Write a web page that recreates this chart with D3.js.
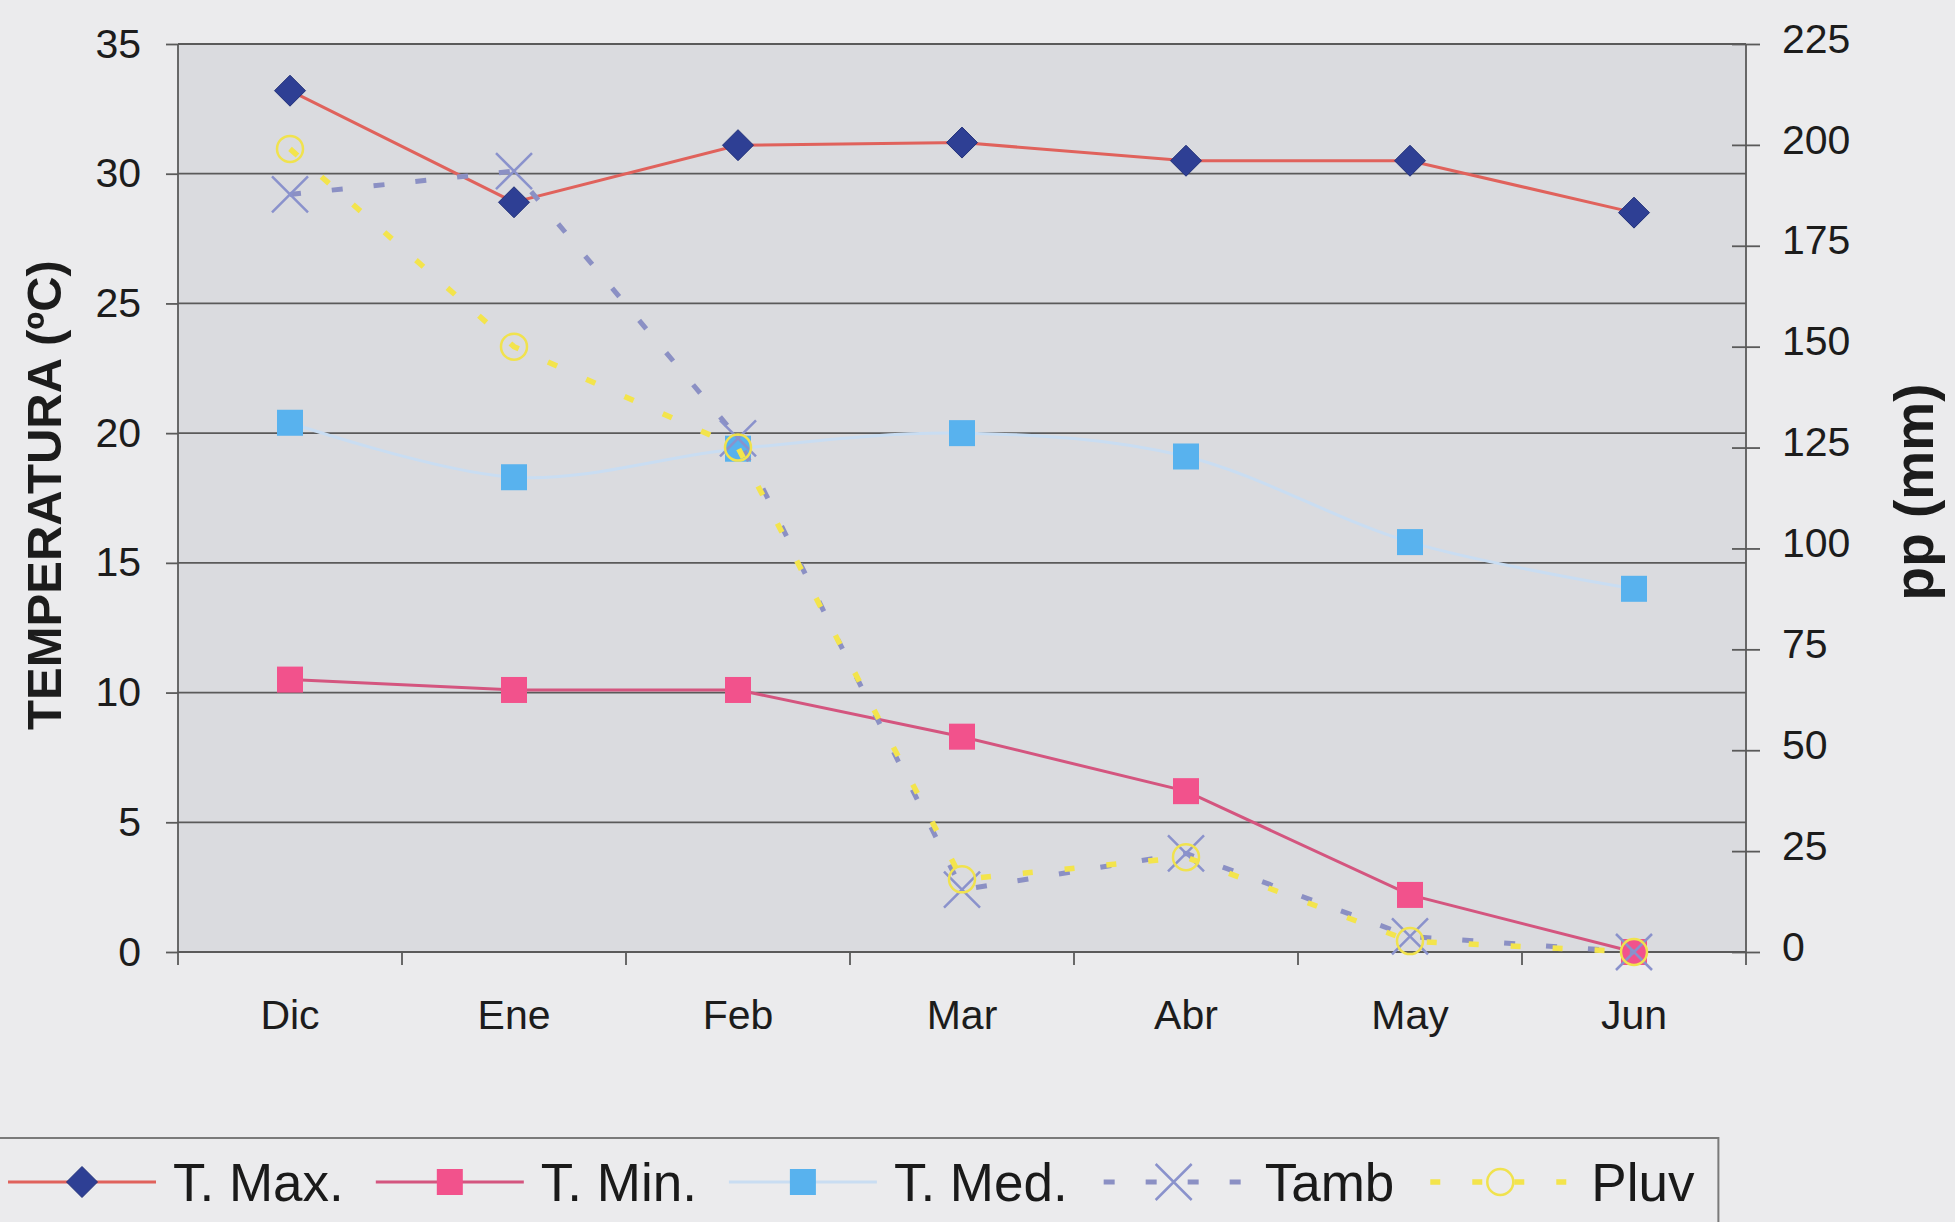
<!DOCTYPE html>
<html>
<head>
<meta charset="utf-8">
<script src="https://cdn.jsdelivr.net/npm/d3@7"></script>
<style>
  body { margin: 0; background: #ebebed; }
  svg { display: block; font-family: "Liberation Sans", Arial, sans-serif; }
</style>
</head>
<body>
<div id="chart"></div>
<script>
// data
const months = ["Dic", "Ene", "Feb", "Mar", "Abr", "May", "Jun"];
const tMax = [33.2, 28.9, 31.1, 31.2, 30.5, 30.5, 28.5];
const tMin = [10.5, 10.1, 10.1, 8.3, 6.2, 2.2, 0];
const tMed = [20.4, 18.3, 19.4, 20.0, 19.1, 15.8, 14.0];
const tAmb = [29.2, 30.1, 19.8, 2.4, 3.8, 0.6, 0];
const pluv = [199, 150, 125, 18, 23.5, 2.7, 0];
const tempTicks = [0, 5, 10, 15, 20, 25, 30, 35];
const ppTicks = [0, 25, 50, 75, 100, 125, 150, 175, 200, 225];

const width = 1955, height = 1222;
const margin = {top: 44, right: 209, bottom: 270, left: 178};
const plotRight = width - margin.right;
const plotBottom = height - margin.bottom;

const series = [
  {name: "T. Med.", values: tMed, axis: "T", color: "#c9ddf2", width: 3, marker: "square", mcolor: "#58b2ee", curve: d3.curveCardinal.tension(0)},
  {name: "T. Max.", values: tMax, axis: "T", color: "#e0625c", width: 3, marker: "diamond", mcolor: "#2e3f94"},
  {name: "T. Min.", values: tMin, axis: "T", color: "#d4557f", width: 3, marker: "square", mcolor: "#f2528c"},
  {name: "Tamb", values: tAmb, axis: "T", color: "#8b90c4", width: 5, dash: "11,31", marker: "x", mcolor: "#8a92cc"},
  {name: "Pluv", values: pluv, axis: "P", color: "#f3e44c", width: 5.5, dash: "10,32", marker: "circle", mcolor: "#f0e24e"}
];
const legendOrder = ["T. Max.", "T. Min.", "T. Med.", "Tamb", "Pluv"];

const svg = d3.select("#chart").append("svg").attr("width", width).attr("height", height);
svg.append("rect").attr("width", width).attr("height", height).attr("fill", "#ebebed");

const x = d3.scaleBand().domain(months).range([margin.left, plotRight]);
const yT = d3.scaleLinear().domain([0, 35]).range([plotBottom, margin.top]);
const yP = d3.scaleLinear().domain([0, 225]).range([plotBottom, margin.top]);
const cx = m => x(m) + x.bandwidth() / 2;

// plot area
svg.append("rect")
  .attr("x", margin.left).attr("y", margin.top)
  .attr("width", plotRight - margin.left).attr("height", plotBottom - margin.top)
  .attr("fill", "#dadbdf");

const gridColor = "#5a5a5a";

// gridlines
svg.append("g").selectAll("line").data(tempTicks).join("line")
  .attr("x1", margin.left).attr("x2", plotRight)
  .attr("y1", d => yT(d)).attr("y2", d => yT(d))
  .attr("stroke", gridColor).attr("stroke-width", 1.8);

// left axis
const leftAxis = svg.append("g")
  .attr("transform", `translate(${margin.left},0)`)
  .call(d3.axisLeft(yT).tickValues(tempTicks).tickSize(12).tickPadding(25));
// right axis
const rightAxis = svg.append("g")
  .attr("transform", `translate(${plotRight},0)`)
  .call(d3.axisRight(yP).tickValues(ppTicks).tickSize(14).tickPadding(22));
rightAxis.selectAll(".tick line").attr("x1", -14);
rightAxis.selectAll(".tick text").attr("dy", "0.2em");
// bottom labels
const bottomAxis = svg.append("g")
  .attr("transform", `translate(0,${plotBottom})`)
  .call(d3.axisBottom(x).tickSize(0).tickPadding(48));

[leftAxis, rightAxis, bottomAxis].forEach(g => {
  g.select(".domain").remove();
  g.selectAll(".tick line").attr("stroke", gridColor).attr("stroke-width", 1.8);
  g.selectAll(".tick text").attr("fill", "#1c1c1c").attr("font-size", 41);
});

// axis lines, extended a little below the plot
[margin.left, plotRight].forEach(px => {
  svg.append("line").attr("x1", px).attr("x2", px)
    .attr("y1", margin.top).attr("y2", plotBottom + 13)
    .attr("stroke", gridColor).attr("stroke-width", 1.8);
});
// category boundary ticks
svg.append("g").selectAll("line").data(months.slice(1)).join("line")
  .attr("x1", d => x(d)).attr("x2", d => x(d))
  .attr("y1", plotBottom).attr("y2", plotBottom + 13)
  .attr("stroke", gridColor).attr("stroke-width", 1.8);

// axis titles
svg.append("text")
  .attr("transform", `translate(44,${(margin.top + plotBottom) / 2 - 3}) rotate(-90)`)
  .attr("text-anchor", "middle").attr("dy", "0.35em")
  .attr("font-size", 49).attr("font-weight", "bold").attr("fill", "#1c1c1c")
  .text("TEMPERATURA (ºC)");
svg.append("text")
  .attr("transform", `translate(1914,${(margin.top + plotBottom) / 2 - 6}) rotate(-90)`)
  .attr("text-anchor", "middle").attr("dy", "0.35em")
  .attr("font-size", 55).attr("font-weight", "bold").attr("fill", "#1c1c1c")
  .text("pp (mm)");

function marker(g, s, px, py) {
  if (s.marker === "diamond") {
    const r = 15.5;
    g.append("path").attr("d", `M${px},${py - r}L${px + r},${py}L${px},${py + r}L${px - r},${py}Z`)
      .attr("fill", s.mcolor).attr("stroke", "#22317a").attr("stroke-width", 1);
  } else if (s.marker === "square") {
    g.append("rect").attr("x", px - 13).attr("y", py - 13).attr("width", 26).attr("height", 26)
      .attr("fill", s.mcolor);
  } else if (s.marker === "x") {
    const r = 18;
    g.append("path").attr("d", `M${px - r},${py - r}L${px + r},${py + r}M${px - r},${py + r}L${px + r},${py - r}`)
      .attr("stroke", s.mcolor).attr("stroke-width", 2.5).attr("fill", "none");
  } else if (s.marker === "circle") {
    g.append("circle").attr("cx", px).attr("cy", py).attr("r", 13)
      .attr("fill", "none").attr("stroke", s.mcolor).attr("stroke-width", 2.5);
  }
}

// series
series.forEach(s => {
  const yS = s.axis === "T" ? yT : yP;
  const pts = months.map((m, i) => [cx(m), yS(s.values[i])]);
  const g = svg.append("g");
  g.append("path")
    .attr("d", d3.line().curve(s.curve || d3.curveLinear)(pts))
    .attr("fill", "none").attr("stroke", s.color).attr("stroke-width", s.width)
    .attr("stroke-dasharray", s.dash || null);
  pts.forEach(p => marker(g, s, p[0], p[1]));
});

// legend
const legendY = 1182, sampleLen = 148;
const legend = svg.append("g");
let lx = 8;
legendOrder.forEach(name => {
  const s = series.find(d => d.name === name);
  legend.append("line")
    .attr("x1", lx).attr("x2", lx + sampleLen).attr("y1", legendY).attr("y2", legendY)
    .attr("stroke", s.color).attr("stroke-width", s.width)
    .attr("stroke-dasharray", s.dash || null).attr("stroke-dashoffset", s.dash ? -4 : null);
  marker(legend, s, lx + sampleLen / 2, legendY);
  const t = legend.append("text")
    .attr("x", lx + sampleLen + 17).attr("y", legendY).attr("dy", "0.35em")
    .attr("font-size", 53).attr("fill", "#1a1a1a").text(name);
  lx = lx + sampleLen + 17 + t.node().getComputedTextLength() + 32;
});
const boxRight = lx - 32 + 24;
svg.append("path")
  .attr("d", `M0,1138H${boxRight}V${height}`)
  .attr("fill", "none").attr("stroke", "#7a7a7a").attr("stroke-width", 2);
</script>
</body>
</html>
